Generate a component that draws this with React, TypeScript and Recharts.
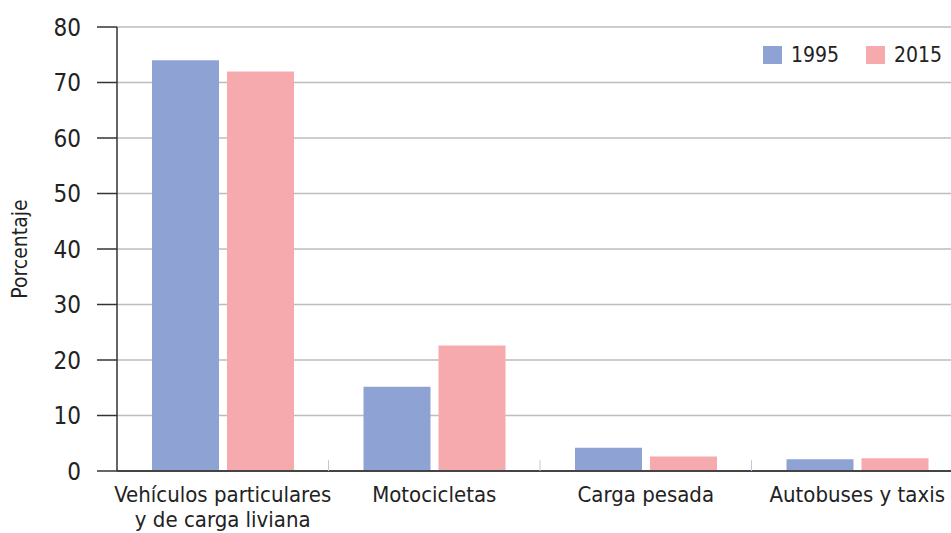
import { BarChart, Bar, XAxis, YAxis, CartesianGrid } from 'recharts'

const categories = ['Vehículos particulares\ny de carga liviana', 'Motocicletas', 'Carga pesada', 'Autobuses y taxis']
const values1995 = [74, 15.2, 4.2, 2.1]
const values2015 = [72, 22.6, 2.6, 2.3]
const yTicks = [0, 10, 20, 30, 40, 50, 60, 70, 80]
const seriesLabels = ['1995', '2015']

const FONT = '"Liberation Sans Narrow", "DejaVu Sans Condensed", "Open Sans", sans-serif'
const BLUE = '#8ea3d4'
const PINK = '#f7aaae'

const data = categories.map((name, i) => ({ name, y1995: values1995[i], y2015: values2015[i] }))

function CategoryTick(props: any) {
  const { x, y, payload, index } = props
  const lines = String(payload.value).split('\n')
  const half = payload.offset || 0
  return (
    <g>
      {index < categories.length - 1 && (
        <line x1={x + half} x2={x + half} y1={y - 8} y2={y - 19} stroke="#b7cde6" strokeWidth={1} />
      )}
      <text x={x} y={y} textAnchor="middle" fill="#222" fontSize={22} fontFamily={FONT}>
        {lines.map((l, i) => (
          <tspan key={i} x={x} dy={i === 0 ? 23 : 25}>{l}</tspan>
        ))}
      </text>
    </g>
  )
}

export default function App() {
  const colors = [BLUE, PINK]
  const legendX = [763, 866]
  return (
    <div style={{ position: 'relative', width: 951, height: 533, background: '#fff', overflow: 'hidden' }}>
      <style>{`body{margin:0}`}</style>
      <BarChart
        width={963}
        height={533}
        data={data}
        margin={{ top: 27, right: 0, left: 0, bottom: 0 }}
        barCategoryGap={35}
        barGap={8}
      >
        <CartesianGrid vertical={false} stroke="#bdbdbd" strokeWidth={1.3} />
        <XAxis
          dataKey="name"
          height={62}
          interval={0}
          axisLine={{ stroke: '#444', strokeWidth: 2 }}
          tickLine={false}
          tickSize={0}
          tickMargin={8}
          tick={<CategoryTick />}
        />
        <YAxis
          width={117}
          domain={[0, 80]}
          ticks={yTicks}
          interval={0}
          axisLine={{ stroke: '#333', strokeWidth: 1.5 }}
          tickLine={{ stroke: '#333', strokeWidth: 1.5 }}
          tickSize={20}
          tickMargin={16}
          tick={{ fill: '#222', fontSize: 24, fontFamily: FONT }}
          label={{ value: 'Porcentaje', angle: -90, position: 'insideLeft', offset: 20, style: { textAnchor: 'middle', fill: '#222', fontSize: 21, fontWeight: 500, fontFamily: FONT } }}
        />
        <Bar dataKey="y1995" fill={BLUE} isAnimationActive={false} />
        <Bar dataKey="y2015" fill={PINK} isAnimationActive={false} />
      </BarChart>
      {seriesLabels.map((label, i) => (
        <div
          key={label}
          style={{ position: 'absolute', top: 43, left: legendX[i], display: 'flex', alignItems: 'center', fontFamily: FONT, fontSize: 21, color: '#222', lineHeight: '24px' }}
        >
          <span style={{ width: 19, height: 18, background: colors[i], display: 'inline-block', marginRight: 9 }} />
          <span>{label}</span>
        </div>
      ))}
    </div>
  )
}
